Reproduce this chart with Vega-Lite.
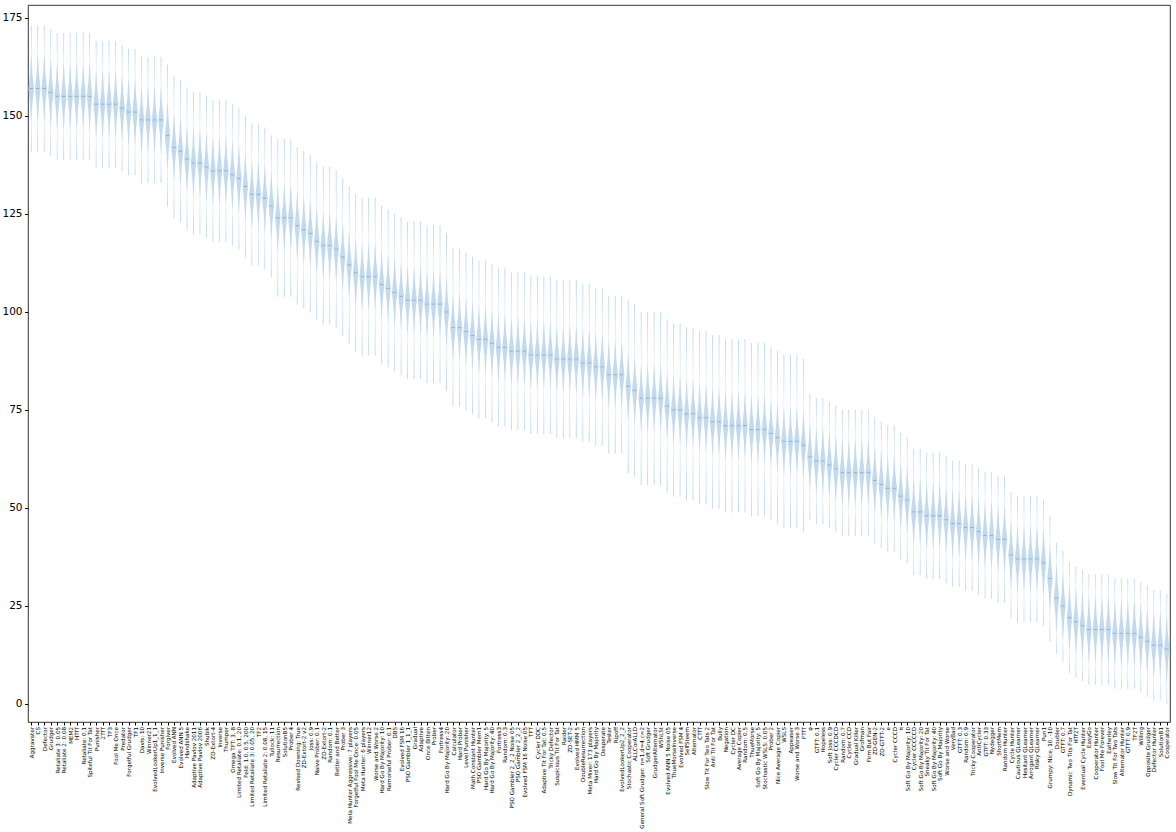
{
"$schema": "https://vega.github.io/schema/vega-lite/v6.json",
"width": 1142, "height": 717,
"autosize": "none",
"padding": {"left": 28, "top": 5, "right": 6, "bottom": 110},
"background": "white",
"config": {"view": {"stroke": "#000", "strokeWidth": 0.8}, "font": "DejaVu Sans"},
"data": {"values": [
{"p":"Aggravater","y":[141,148,153,157,161,166,173]},
{"p":"CS","y":[141,148,153,157,161,166,173]},
{"p":"Defector","y":[141,148,153,157,161,166,173]},
{"p":"Grudger","y":[140,147,152,156,160,165,172]},
{"p":"Retaliate 3: 0.05","y":[139,146,151,155,159,164,171]},
{"p":"Retaliate 2: 0.08","y":[139,146,151,155,159,164,171]},
{"p":"MEM2","y":[139,146,151,155,159,164,171]},
{"p":"HTfT","y":[139,146,151,155,159,164,171]},
{"p":"Retaliate: 0.1","y":[139,146,151,155,159,164,171]},
{"p":"Spiteful Tit For Tat","y":[139,146,151,155,159,164,171]},
{"p":"Punisher","y":[137,144,149,153,157,162,169]},
{"p":"2TfT","y":[137,144,149,153,157,162,169]},
{"p":"TF3","y":[137,144,149,153,157,162,169]},
{"p":"Fool Me Once","y":[137,144,149,153,157,162,169]},
{"p":"Predator","y":[136,143,148,152,156,161,168]},
{"p":"Forgetful Grudger","y":[135,142,147,151,155,160,167]},
{"p":"TF1","y":[135,142,147,151,155,160,167]},
{"p":"Davis: 10","y":[133,140,145,149,153,158,165]},
{"p":"Winner21","y":[133,140,145,149,153,158,165]},
{"p":"EvolvedLookerUp1_1_1","y":[133,140,145,149,153,158,165]},
{"p":"Inverse Punisher","y":[133,140,145,149,153,158,165]},
{"p":"Forgiver","y":[127,136,141,145,149,154,163]},
{"p":"Evolved ANN","y":[124,133,138,142,146,151,160]},
{"p":"Evolved ANN 5","y":[123,132,137,141,145,150,159]},
{"p":"Handshake","y":[121,130,135,139,143,148,157]},
{"p":"Adaptive Pavlov 2011","y":[120,129,134,138,142,147,156]},
{"p":"Adaptive Pavlov 2006","y":[120,129,134,138,142,147,156]},
{"p":"Shubik","y":[119,128,133,137,141,146,155]},
{"p":"ZD-Extort-4","y":[118,127,132,136,140,145,154]},
{"p":"Inverse","y":[118,127,132,136,140,145,154]},
{"p":"Thumper","y":[118,127,132,136,140,145,154]},
{"p":"Omega TFT: 3, 8","y":[117,126,131,135,139,144,153]},
{"p":"Limited Retaliate: 0.1, 20","y":[116,125,130,134,138,143,152]},
{"p":"Feld: 1.0, 0.5, 200","y":[114,123,128,132,136,141,150]},
{"p":"Limited Retaliate 3: 0.05, 20","y":[112,121,126,130,134,139,148]},
{"p":"TF2","y":[112,121,126,130,134,139,148]},
{"p":"Limited Retaliate 2: 0.08, 15","y":[111,120,125,129,133,138,147]},
{"p":"Tullock: 11","y":[109,118,123,127,131,136,145]},
{"p":"Resurrection","y":[104,115,120,124,128,133,144]},
{"p":"SolutionB5","y":[104,115,120,124,128,133,144]},
{"p":"Prober 4","y":[104,115,120,124,128,133,144]},
{"p":"Revised Downing: True","y":[102,113,118,122,126,131,142]},
{"p":"ZD-Extort-2 v2","y":[101,112,117,121,125,130,141]},
{"p":"Joss: 0.9","y":[100,111,116,120,124,129,140]},
{"p":"Naive Prober: 0.1","y":[98,109,114,118,122,127,138]},
{"p":"ZD-Extort-2","y":[97,108,113,117,121,126,137]},
{"p":"Random: 0.1","y":[97,108,113,117,121,126,137]},
{"p":"Better and Better","y":[96,107,112,116,120,125,136]},
{"p":"Prober 3","y":[94,105,110,114,118,123,134]},
{"p":"Meta Hunter Aggressive: 7 players","y":[92,103,108,112,116,121,132]},
{"p":"Forgetful Fool Me Once: 0.05","y":[90,101,106,110,114,119,130]},
{"p":"Meta Hunter: 6 players","y":[89,100,105,109,113,118,129]},
{"p":"Winner12","y":[89,100,105,109,113,118,129]},
{"p":"Worse and Worse 2","y":[89,100,105,109,113,118,129]},
{"p":"Hard Go By Majority: 10","y":[87,98,103,107,111,116,127]},
{"p":"Remorseful Prober: 0.1","y":[86,97,102,106,110,115,126]},
{"p":"DBS","y":[85,96,101,105,109,114,125]},
{"p":"Evolved FSM 16","y":[84,95,100,104,108,113,124]},
{"p":"PSO Gambler 1_1_1","y":[83,94,99,103,107,112,123]},
{"p":"Gradual","y":[83,94,99,103,107,112,123]},
{"p":"Adaptive","y":[83,94,99,103,107,112,123]},
{"p":"Once Bitten","y":[82,93,98,102,106,111,122]},
{"p":"Prober","y":[82,93,98,102,106,111,122]},
{"p":"Fortress4","y":[82,93,98,102,106,111,122]},
{"p":"Hard Go By Majority: 20","y":[80,91,96,100,104,109,120]},
{"p":"Calculator","y":[76,87,92,96,100,105,116]},
{"p":"Hard Prober","y":[76,87,92,96,100,105,116]},
{"p":"Level Punisher","y":[75,86,91,95,99,104,115]},
{"p":"Math Constant Hunter","y":[74,85,90,94,98,103,114]},
{"p":"PSO Gambler Mem1","y":[73,84,89,93,97,102,113]},
{"p":"Hard Go By Majority: 5","y":[73,84,89,93,97,102,113]},
{"p":"Hard Go By Majority: 40","y":[72,83,88,92,96,101,112]},
{"p":"Fortress3","y":[71,82,87,91,95,100,111]},
{"p":"Random: 0.3","y":[71,82,87,91,95,100,111]},
{"p":"PSO Gambler 2_2_2 Noise 05","y":[70,81,86,90,94,99,110]},
{"p":"PSO Gambler 2_2_2","y":[70,81,86,90,94,99,110]},
{"p":"Evolved FSM 16 Noise 05","y":[70,81,86,90,94,99,110]},
{"p":"TFT","y":[69,80,85,89,93,98,109]},
{"p":"Cycler DDC","y":[69,80,85,89,93,98,109]},
{"p":"Adaptive Tit For Tat: 0.5","y":[69,80,85,89,93,98,109]},
{"p":"Tricky Defector","y":[69,80,85,89,93,98,109]},
{"p":"Suspicious Tit For Tat","y":[68,79,84,88,92,97,108]},
{"p":"Raider","y":[68,79,84,88,92,97,108]},
{"p":"ZD-SET-2","y":[68,79,84,88,92,97,108]},
{"p":"Evolved HMM 5","y":[68,79,84,88,92,97,108]},
{"p":"DoubleResurrection","y":[67,78,83,87,91,96,107]},
{"p":"Meta Mixer: 173 players","y":[67,78,83,87,91,96,107]},
{"p":"Hard Go By Majority","y":[66,77,82,86,90,95,106]},
{"p":"Desperate","y":[66,77,82,86,90,95,106]},
{"p":"Tester","y":[64,75,80,84,88,93,104]},
{"p":"Ripoff","y":[64,75,80,84,88,93,104]},
{"p":"EvolvedLookerUp2_2_2","y":[64,75,80,84,88,93,104]},
{"p":"Stochastic Cooperator","y":[59,72,77,81,85,90,103]},
{"p":"ALLCorALLD","y":[58,71,76,80,84,89,102]},
{"p":"General Soft Grudger: n=1,d=4,c=2","y":[56,69,74,78,82,87,100]},
{"p":"Soft Grudger","y":[56,69,74,78,82,87,100]},
{"p":"GrudgerAlternator","y":[56,69,74,78,82,87,100]},
{"p":"WShLSt","y":[56,69,74,78,82,87,100]},
{"p":"Evolved ANN 5 Noise 05","y":[54,67,72,76,80,85,98]},
{"p":"ThueMorseInverse","y":[53,66,71,75,79,84,97]},
{"p":"Evolved FSM 4","y":[53,66,71,75,79,84,97]},
{"p":"SelfSteem","y":[52,65,70,74,78,83,96]},
{"p":"Alternator","y":[52,65,70,74,78,83,96]},
{"p":"CTfT","y":[51,64,69,73,77,82,95]},
{"p":"Slow Tit For Two Tats 2","y":[51,64,69,73,77,82,95]},
{"p":"Anti Tit For Tat","y":[50,63,68,72,76,81,94]},
{"p":"Bully","y":[50,63,68,72,76,81,94]},
{"p":"Negation","y":[49,62,67,71,75,80,93]},
{"p":"Cycler DC","y":[49,62,67,71,75,80,93]},
{"p":"Average Copier","y":[49,62,67,71,75,80,93]},
{"p":"Random: 0.5","y":[49,62,67,71,75,80,93]},
{"p":"ThueMorse","y":[48,61,66,70,74,79,92]},
{"p":"Soft Go By Majority: 5","y":[48,61,66,70,74,79,92]},
{"p":"Stochastic WSLS: 0.05","y":[48,61,66,70,74,79,92]},
{"p":"Prober 2","y":[47,60,65,69,73,78,91]},
{"p":"Nice Average Copier","y":[46,59,64,68,72,77,90]},
{"p":"WSLS","y":[45,58,63,67,71,76,89]},
{"p":"Appeaser","y":[45,58,63,67,71,76,89]},
{"p":"Worse and Worse 3","y":[45,58,63,67,71,76,89]},
{"p":"FTfT","y":[44,57,62,66,70,75,88]},
{"p":"φ","y":[47,54,59,63,67,72,79]},
{"p":"GTFT: 0.1","y":[46,53,58,62,66,71,78]},
{"p":"Hopeless","y":[46,53,58,62,66,71,78]},
{"p":"Soft Joss: 0.9","y":[45,52,57,61,65,70,77]},
{"p":"Cycler CCCDCD","y":[44,51,56,60,64,69,76]},
{"p":"Random: 0.7","y":[43,50,55,59,63,68,75]},
{"p":"Cycler CCD","y":[43,50,55,59,63,68,75]},
{"p":"Gradual Killer","y":[43,50,55,59,63,68,75]},
{"p":"Grofman","y":[43,50,55,59,63,68,75]},
{"p":"Firm But Fair","y":[43,50,55,59,63,68,75]},
{"p":"ZD-GEN-2","y":[41,48,53,57,61,66,73]},
{"p":"ZD-GTFT-2","y":[40,47,52,56,60,65,72]},
{"p":"e","y":[39,46,51,55,59,64,71]},
{"p":"Cycler CCCD","y":[39,46,51,55,59,64,71]},
{"p":"π","y":[37,44,49,53,57,62,69]},
{"p":"Soft Go By Majority: 10","y":[36,43,48,52,56,61,68]},
{"p":"Cycler CCCCCD","y":[33,40,45,49,53,58,65]},
{"p":"Soft Go By Majority: 20","y":[33,40,45,49,53,58,65]},
{"p":"Sneaky Tit For Tat","y":[32,39,44,48,52,57,64]},
{"p":"Soft Go By Majority: 40","y":[32,39,44,48,52,57,64]},
{"p":"Soft Go By Majority","y":[32,39,44,48,52,57,64]},
{"p":"Worse and Worse","y":[31,38,43,47,51,56,63]},
{"p":"VeryBad","y":[30,37,42,46,50,55,62]},
{"p":"GTFT: 0.3","y":[30,37,42,46,50,55,62]},
{"p":"Random: 0.9","y":[29,36,41,45,49,54,61]},
{"p":"Tricky Cooperator","y":[29,36,41,45,49,54,61]},
{"p":"AntiCycler","y":[28,35,40,44,48,53,60]},
{"p":"GTFT: 0.33","y":[27,34,39,43,47,52,59]},
{"p":"Nydegger","y":[27,34,39,43,47,52,59]},
{"p":"ShortMem","y":[26,33,38,42,46,51,58]},
{"p":"Random Hunter","y":[26,33,38,42,46,51,58]},
{"p":"Cycle Hunter","y":[22,29,34,38,42,47,54]},
{"p":"Cautious QLearner","y":[21,28,33,37,41,46,53]},
{"p":"Hesitant QLearner","y":[21,28,33,37,41,46,53]},
{"p":"Arrogant QLearner","y":[21,28,33,37,41,46,53]},
{"p":"Risky QLearner","y":[21,28,33,37,41,46,53]},
{"p":"Pun1","y":[20,27,32,36,40,45,52]},
{"p":"Grumpy: Nice, 10, -10","y":[16,23,28,32,36,41,48]},
{"p":"Doubler","y":[13,18,23,27,31,36,41]},
{"p":"GTFT: 0.7","y":[11,16,21,25,29,34,39]},
{"p":"Dynamic Two Tits For Tat","y":[8,13,18,22,26,31,36]},
{"p":"HTf2T","y":[7,12,17,21,25,30,35]},
{"p":"Eventual Cycle Hunter","y":[6,11,16,20,24,29,34]},
{"p":"EasyGo","y":[5,10,15,19,23,28,33]},
{"p":"Cooperator Hunter","y":[5,10,15,19,23,28,33]},
{"p":"Fool Me Forever","y":[5,10,15,19,23,28,33]},
{"p":"Eatherley","y":[5,10,15,19,23,28,33]},
{"p":"Slow Tit For Two Tats","y":[4,9,14,18,22,27,32]},
{"p":"Alternator Hunter","y":[4,9,14,18,22,27,32]},
{"p":"GTFT: 0.9","y":[4,9,14,18,22,27,32]},
{"p":"TF2T","y":[4,9,14,18,22,27,32]},
{"p":"Willing","y":[3,8,13,17,21,26,31]},
{"p":"Opposite Grudger","y":[2,7,12,16,20,25,30]},
{"p":"Defector Hunter","y":[1,6,11,15,19,24,29]},
{"p":"SolutionB1","y":[1,6,11,15,19,24,29]},
{"p":"Cooperator","y":[0,5,10,14,18,23,28]}
]},
"transform": [{"flatten": ["y"], "as": ["y"]}, {"window": [{"op": "row_number", "as": "k"}], "groupby": ["p"]}, {"lookup": "k", "from": {"data": {"values": [{"k":1,"d":0},{"k":2,"d":0.06},{"k":3,"d":0.4},{"k":4,"d":1},{"k":5,"d":0.4},{"k":6,"d":0.06},{"k":7,"d":0}]}, "key": "k", "fields": ["d"]}}],
"encoding": {
  "x": {"field": "p", "type": "nominal", "sort": null, "scale": {"type": "point", "padding": 0.5},
        "axis": {"title": null, "labelAngle": -90, "labelFontSize": 5.6, "labelPadding": 1.5, "tickSize": 3, "tickColor": "#000", "domain": false, "labelOverlap": false, "labelLimit": 300, "labelColor": "#000"}}
},
"layer": [
  {"mark": {"type": "trail", "color": "#bcd6ec", "opacity": 0.9},
   "encoding": {
     "y": {"field": "y", "type": "quantitative", "scale": {"domain": [-4.6, 178.3], "nice": false, "zero": false},
           "axis": {"title": null, "values": [0,25,50,75,100,125,150,175], "labelFontSize": 10.5, "tickSize": 3.5, "tickColor": "#000", "grid": false, "domain": false, "labelColor": "#000", "labelPadding": 2.5}},
     "size": {"field": "d", "type": "quantitative", "scale": {"domain": [0, 1], "range": [0, 5.5]}, "legend": null},
     "detail": {"field": "p"},
     "order": {"field": "y", "type": "quantitative"}
   }},
  {"transform": [{"filter": "datum.d == 1"}],
   "mark": {"type": "tick", "color": "#7c9bbb", "size": 3, "thickness": 1},
   "encoding": {"y": {"field": "y", "type": "quantitative"}}}
]
}
